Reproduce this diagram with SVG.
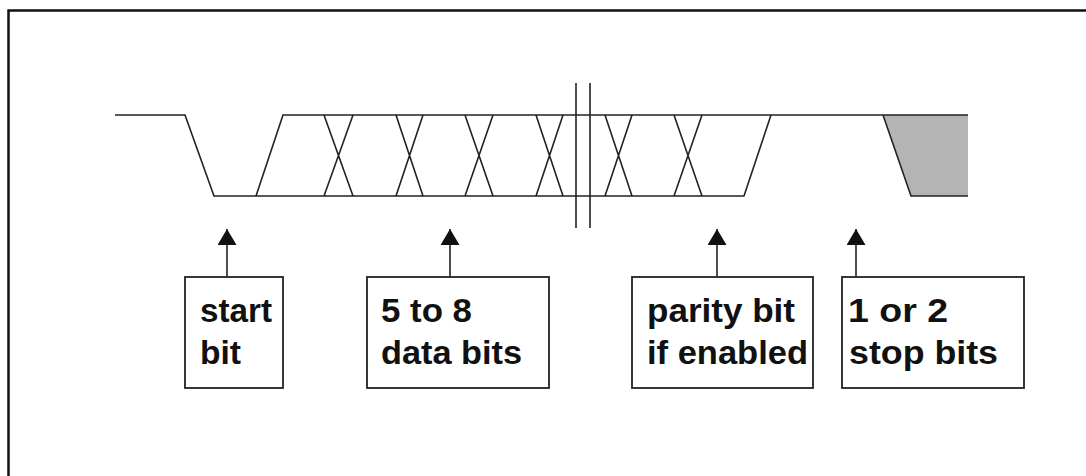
<svg xmlns="http://www.w3.org/2000/svg" width="1086" height="476" viewBox="0 0 1086 476">
  <style>
    .frame { fill: none; stroke: #111; stroke-width: 2.5; }
    .sig { fill: none; stroke: #222; stroke-width: 1.6; stroke-linejoin: miter; }
    .box { fill: #fff; stroke: #222; stroke-width: 1.8; }
    .lbl { font-family: "Liberation Sans", Arial, sans-serif; font-weight: bold; font-size: 34px; fill: #111; }
    .conn { stroke: #222; stroke-width: 1.6; fill: none; }
  </style>
  <defs>
    <marker id="arrow" markerUnits="userSpaceOnUse" markerWidth="17" markerHeight="20" refX="16" refY="9.5" orient="auto" viewBox="0 0 17 20">
      <path d="M0,0 L16,9.5 L0,19 z" fill="#111"/>
    </marker>
  </defs>
  <rect width="1086" height="476" fill="#fff"/>
  <path class="frame" d="M8.5,476 V10.5 H1086"/>

  <g id="waveform">
    <polygon points="883,115 968,115 968,196 911,196" fill="#b4b4b4"/>
    <path class="sig" d="M115,115 H185 L214,196 H744 L771,115"/>
    <path class="sig" d="M256,196 L283,115 H968"/>
    <path class="sig" d="M883,115 L911,196 H968"/>
    <path class="sig" d="M324,115 L353,196 M324,196 L353,115
                         M396,115 L423,196 M396,196 L423,115
                         M465,115 L493,196 M465,196 L493,115
                         M536,115 L563,196 M536,196 L563,115
                         M605,115 L632,196 M605,196 L632,115
                         M674,115 L702,196 M674,196 L702,115"/>
    <path class="sig" d="M576,83 V228 M590,83 V228"/>
  </g>

  <g id="connectors">
    <line class="conn" x1="227" y1="277" x2="227" y2="229" marker-end="url(#arrow)"/>
    <line class="conn" x1="450" y1="277" x2="450" y2="229" marker-end="url(#arrow)"/>
    <line class="conn" x1="717" y1="277" x2="717" y2="229" marker-end="url(#arrow)"/>
    <line class="conn" x1="856" y1="277" x2="856" y2="229" marker-end="url(#arrow)"/>
  </g>

  <g id="start-bit">
    <rect class="box" x="185" y="277" width="98" height="111"/>
    <text class="lbl" x="200" y="322" textLength="72" lengthAdjust="spacingAndGlyphs">start</text>
    <text class="lbl" x="200" y="364" textLength="41" lengthAdjust="spacingAndGlyphs">bit</text>
  </g>

  <g id="data-bits">
    <rect class="box" x="367" y="277" width="182" height="111"/>
    <text class="lbl" x="381" y="322" textLength="91" lengthAdjust="spacingAndGlyphs">5 to 8</text>
    <text class="lbl" x="381" y="364" textLength="141" lengthAdjust="spacingAndGlyphs">data bits</text>
  </g>

  <g id="parity-bit">
    <rect class="box" x="632" y="277" width="181" height="111"/>
    <text class="lbl" x="647" y="322" textLength="148" lengthAdjust="spacingAndGlyphs">parity bit</text>
    <text class="lbl" x="647" y="364" textLength="161" lengthAdjust="spacingAndGlyphs">if enabled</text>
  </g>

  <g id="stop-bits">
    <rect class="box" x="842" y="277" width="182" height="111"/>
    <text class="lbl" x="848" y="322" textLength="100" lengthAdjust="spacingAndGlyphs">1 or 2</text>
    <text class="lbl" x="849" y="364" textLength="149" lengthAdjust="spacingAndGlyphs">stop bits</text>
  </g>
</svg>
